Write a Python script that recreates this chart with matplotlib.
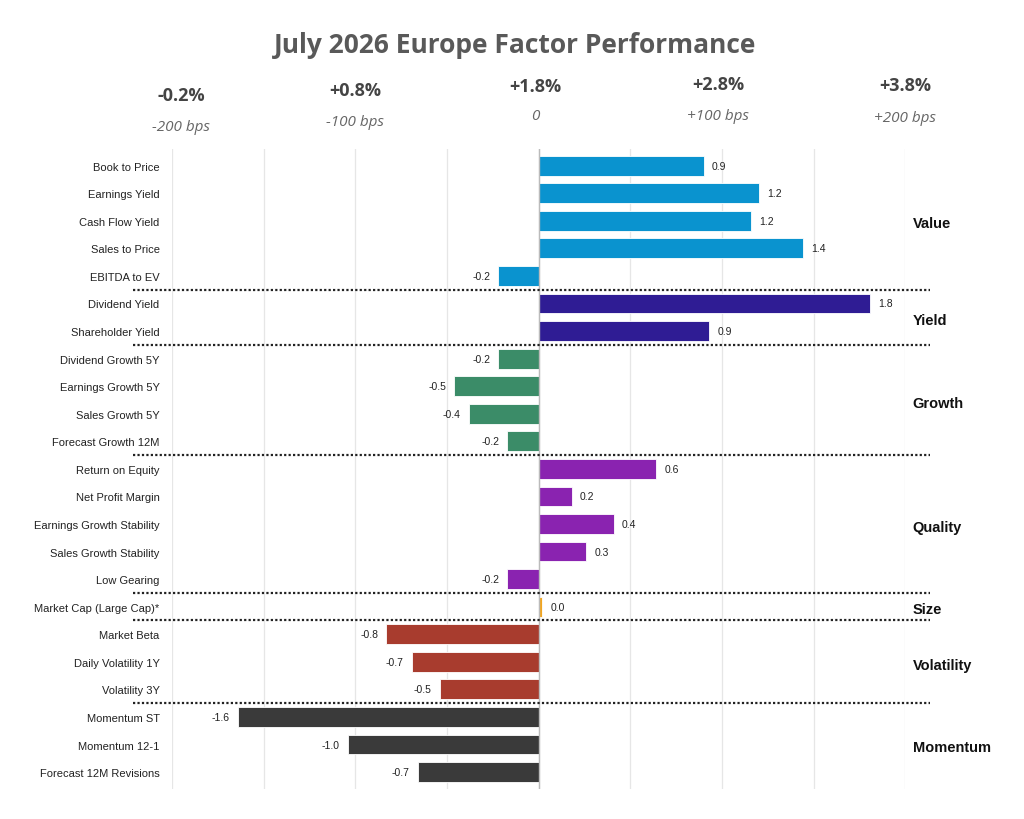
import matplotlib
matplotlib.use("Agg")
import matplotlib.pyplot as plt
import matplotlib.transforms as mtransforms

# ---------------- data ----------------
factors = ["Book to Price", "Earnings Yield", "Cash Flow Yield", "Sales to Price", "EBITDA to EV",
           "Dividend Yield", "Shareholder Yield",
           "Dividend Growth 5Y", "Earnings Growth 5Y", "Sales Growth 5Y", "Forecast Growth 12M",
           "Return on Equity", "Net Profit Margin", "Earnings Growth Stability", "Sales Growth Stability", "Low Gearing",
           "Market Cap (Large Cap)*",
           "Market Beta", "Daily Volatility 1Y", "Volatility 3Y",
           "Momentum ST", "Momentum 12-1", "Forecast 12M Revisions"]
values = [0.90, 1.20, 1.16, 1.44, -0.22,
          1.81, 0.93,
          -0.22, -0.46, -0.38, -0.17,
          0.64, 0.18, 0.41, 0.26, -0.17,
          0.02,
          -0.83, -0.69, -0.54,
          -1.64, -1.04, -0.66]
groups = ["Value", "Yield", "Growth", "Quality", "Size", "Volatility", "Momentum"]
group_sizes = [5, 2, 4, 5, 1, 3, 3]
group_colors = ["#0A93CF", "#2F1C94", "#3B8C68", "#8A23B0", "#F2A51F", "#A83C2E", "#3A3A3A"]

top_pct = ["-0.2%", "+0.8%", "+1.8%", "+2.8%", "+3.8%"]
top_bps = ["-200 bps", "-100 bps", "0", "+100 bps", "+200 bps"]
title = "July 2026 Europe Factor Performance"

# ---------------- figure ----------------
plt.rcParams['font.family'] = ['Liberation Sans', 'DejaVu Sans']
fig = plt.figure(figsize=(10.24, 8.2), dpi=100)
ax = fig.add_axes([0.168, 0.037, 0.716, 0.780])

colors = []
for g, n in enumerate(group_sizes):
    colors += [group_colors[g]] * n

ypos = list(range(len(factors)))
ax.barh(ypos, values, height=0.72, color=colors, edgecolor="white", linewidth=0.6, zorder=3)

ax.set_xlim(-2.0, 2.0)
ax.set_ylim(len(factors) - 0.4, -0.6)
ax.set_yticks(ypos)
ax.set_yticklabels(factors, fontsize=8, color="#222222")
ax.tick_params(axis="y", length=0, pad=9)
ax.set_xticks([-2, -1.5, -1, -0.5, 0, 0.5, 1, 1.5, 2])
ax.tick_params(axis="x", length=0, labelbottom=False)
ax.grid(axis="x", color="#E6E6E6", linewidth=0.9, zorder=0)
for s in ax.spines.values():
    s.set_visible(False)
ax.axvline(0, color="#BBBBBB", linewidth=1.0, zorder=4)

# value labels
for y, v in zip(ypos, values):
    off = 0.045
    if v >= 0:
        ax.text(v + off, y, f"{v:.1f}", va="center", ha="left", fontsize=7.5, color="#222222", zorder=5)
    else:
        ax.text(v - off, y, f"{v:.1f}", va="center", ha="right", fontsize=7.5, color="#222222", zorder=5)

# separators and group labels
start = 0
for g, n in enumerate(group_sizes):
    end = start + n
    center = (start + end - 1) / 2
    ax.text(1.01, center + 0.1, groups[g], transform=mtransforms.blended_transform_factory(ax.transAxes, ax.transData),
            ha="left", va="center", fontsize=10.5, fontweight="bold", color="#111111")
    if g < len(group_sizes) - 1:
        ax.plot([-0.053, 1.034], [end - 0.5, end - 0.5],
                transform=mtransforms.blended_transform_factory(ax.transAxes, ax.transData),
                color="#222222", linewidth=1.6, linestyle=(0, (1, 1)), clip_on=False, zorder=6)
    start = end

# top scale labels
trans = mtransforms.blended_transform_factory(ax.transData, fig.transFigure)
pct_x = [-1.95, -1.0, -0.02, 0.98, 2.0]
pct_y = [0.883, 0.889, 0.894, 0.896, 0.895]
bps_y = [0.845, 0.851, 0.858, 0.858, 0.856]
for i in range(len(top_pct)):
    ax.text(pct_x[i], pct_y[i], top_pct[i], transform=trans, ha="center", va="center",
            fontsize=13, fontweight="bold", color="#444444", family=["Open Sans", "DejaVu Sans"])
    ax.text(pct_x[i], bps_y[i], top_bps[i], transform=trans, ha="center", va="center",
            fontsize=11, fontstyle="italic", color="#666666", family=["Open Sans", "DejaVu Sans"])

fig.text(0.503, 0.945, title, ha="center", va="center", fontsize=19, fontweight="bold",
         color="#595959", family=["Open Sans", "DejaVu Sans"])

fig.savefig("out.png", dpi=100, facecolor="white")
